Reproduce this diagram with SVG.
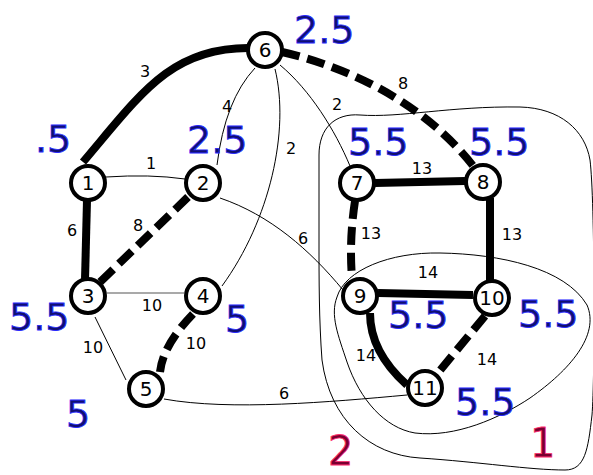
<svg xmlns="http://www.w3.org/2000/svg" width="593" height="475" viewBox="0 0 593 475">
<style>
.thin{fill:none;stroke:#000;stroke-width:1}
.thick{fill:none;stroke:#000;stroke-width:8}
.dash{fill:none;stroke:#000;stroke-width:8;stroke-dasharray:18,8}
.node circle{fill:#fff;stroke:#000;stroke-width:4}
.node text{font-family:"DejaVu Sans",sans-serif;font-size:20px;text-anchor:middle;fill:#000}
.el{font-family:"DejaVu Sans",sans-serif;font-size:16px;text-anchor:middle;fill:#000}
.bl{font-family:"DejaVu Sans",sans-serif;font-size:38px;fill:#101070;stroke:#2a2aff;stroke-width:0.8}
.rd{font-family:"DejaVu Sans",sans-serif;font-size:40px;fill:#7a0030;stroke:#ff3070;stroke-width:0.8}
.region{fill:none;stroke:#000;stroke-width:1}
</style>
<g id="regions">
<path class="region" d="M319,240 L319,155 C319,128 335,113 360,115 C400,118 450,106 520,107 C560,108 585,130 590,160 C595,200 595,380 592,415 C588,450 585,470 565,470 C530,470 480,462 420,458 C370,455 330,420 322,360 C319,320 319,280 319,240 Z"/>
<path class="region" d="M337,297 C345,270 390,252 440,253 C500,254 565,268 587,305 C600,335 570,370 530,398 C500,418 455,438 415,433 C385,428 360,400 347,362 C338,335 330,315 337,297 Z"/>
</g>
<g id="connectors">
<path class="thick" d="M83,162 C140,95 170,48 248,48"/>
<path class="thin" d="M106,177 Q150,174 185,179"/>
<path class="thick" d="M87,200 L85,280"/>
<path class="dash" d="M188,197 L100,282"/>
<path class="thin" d="M217,165 Q225,100 255,68"/>
<path class="thin" d="M275,69 C290,130 270,220 222,286"/>
<path class="thin" d="M280,65 C310,90 335,130 350,166"/>
<path class="dash" d="M282,52 C360,70 430,110 474,167"/>
<path class="thin" d="M220,198 C270,215 310,250 343,290"/>
<path d="M107,293 L184,293" fill="none" stroke="#555" stroke-width="1.2"/>
<path class="thin" d="M95,317 L126,380"/>
<path class="dash" d="M193,314 Q163,345 160,372"/>
<path class="thin" d="M164,399 C230,411 330,402 407,395"/>
<path class="thick" d="M375,183 L465,181"/>
<path class="dash" d="M355,201 Q349,240 352,278"/>
<path class="thick" d="M490,198 L490,280"/>
<path class="thick" d="M378,293 L473,295"/>
<path class="thick" d="M370,313 Q370,352 407,385"/>
<path class="dash" d="M485,316 L437,374"/>
</g>
<g id="edge-labels">
<text class="el" x="145" y="77">3</text>
<text class="el" x="151" y="169">1</text>
<text class="el" x="227" y="112">4</text>
<text class="el" x="291" y="154">2</text>
<text class="el" x="337" y="110">2</text>
<text class="el" x="403" y="89">8</text>
<text class="el" x="72" y="236">6</text>
<text class="el" x="138" y="231">8</text>
<text class="el" x="303" y="244">6</text>
<text class="el" x="152" y="311">10</text>
<text class="el" x="93" y="353">10</text>
<text class="el" x="196" y="349">10</text>
<text class="el" x="284" y="399">6</text>
<text class="el" x="422" y="174">13</text>
<text class="el" x="371" y="239">13</text>
<text class="el" x="512" y="240">13</text>
<text class="el" x="428" y="278">14</text>
<text class="el" x="366" y="361">14</text>
<text class="el" x="487" y="365">14</text>
</g>
<g id="n1" class="node"><circle cx="88" cy="183" r="17"/><text x="88" y="190">1</text></g>
<g id="n2" class="node"><circle cx="203" cy="183" r="17"/><text x="203" y="190">2</text></g>
<g id="n3" class="node"><circle cx="88" cy="296" r="17"/><text x="88" y="303">3</text></g>
<g id="n4" class="node"><circle cx="203" cy="296" r="17"/><text x="203" y="303">4</text></g>
<g id="n5" class="node"><circle cx="146" cy="389" r="17"/><text x="146" y="396">5</text></g>
<g id="n6" class="node"><circle cx="265" cy="50" r="17"/><text x="265" y="57">6</text></g>
<g id="n7" class="node"><circle cx="357" cy="183" r="17"/><text x="357" y="190">7</text></g>
<g id="n8" class="node"><circle cx="483" cy="182" r="17"/><text x="483" y="189">8</text></g>
<g id="n9" class="node"><circle cx="360" cy="296" r="17"/><text x="360" y="303">9</text></g>
<g id="n10" class="node"><circle cx="492" cy="298" r="17"/><text x="492" y="305">10</text></g>
<g id="n11" class="node"><circle cx="425" cy="388" r="17"/><text x="425" y="395">11</text></g>
<g id="values">
<text class="bl" x="35" y="152">.5</text>
<text class="bl" x="187" y="153">2.5</text>
<text class="bl" x="294" y="43">2.5</text>
<text class="bl" x="348" y="155">5.5</text>
<text class="bl" x="469" y="155">5.5</text>
<text class="bl" x="9" y="330">5.5</text>
<text class="bl" x="225" y="332">5</text>
<text class="bl" x="66" y="427">5</text>
<text class="bl" x="388" y="328">5.5</text>
<text class="bl" x="518" y="327">5.5</text>
<text class="bl" x="455" y="415">5.5</text>
<text class="rd" x="530" y="457">1</text>
<text class="rd" x="328" y="465">2</text>
</g>
</svg>
